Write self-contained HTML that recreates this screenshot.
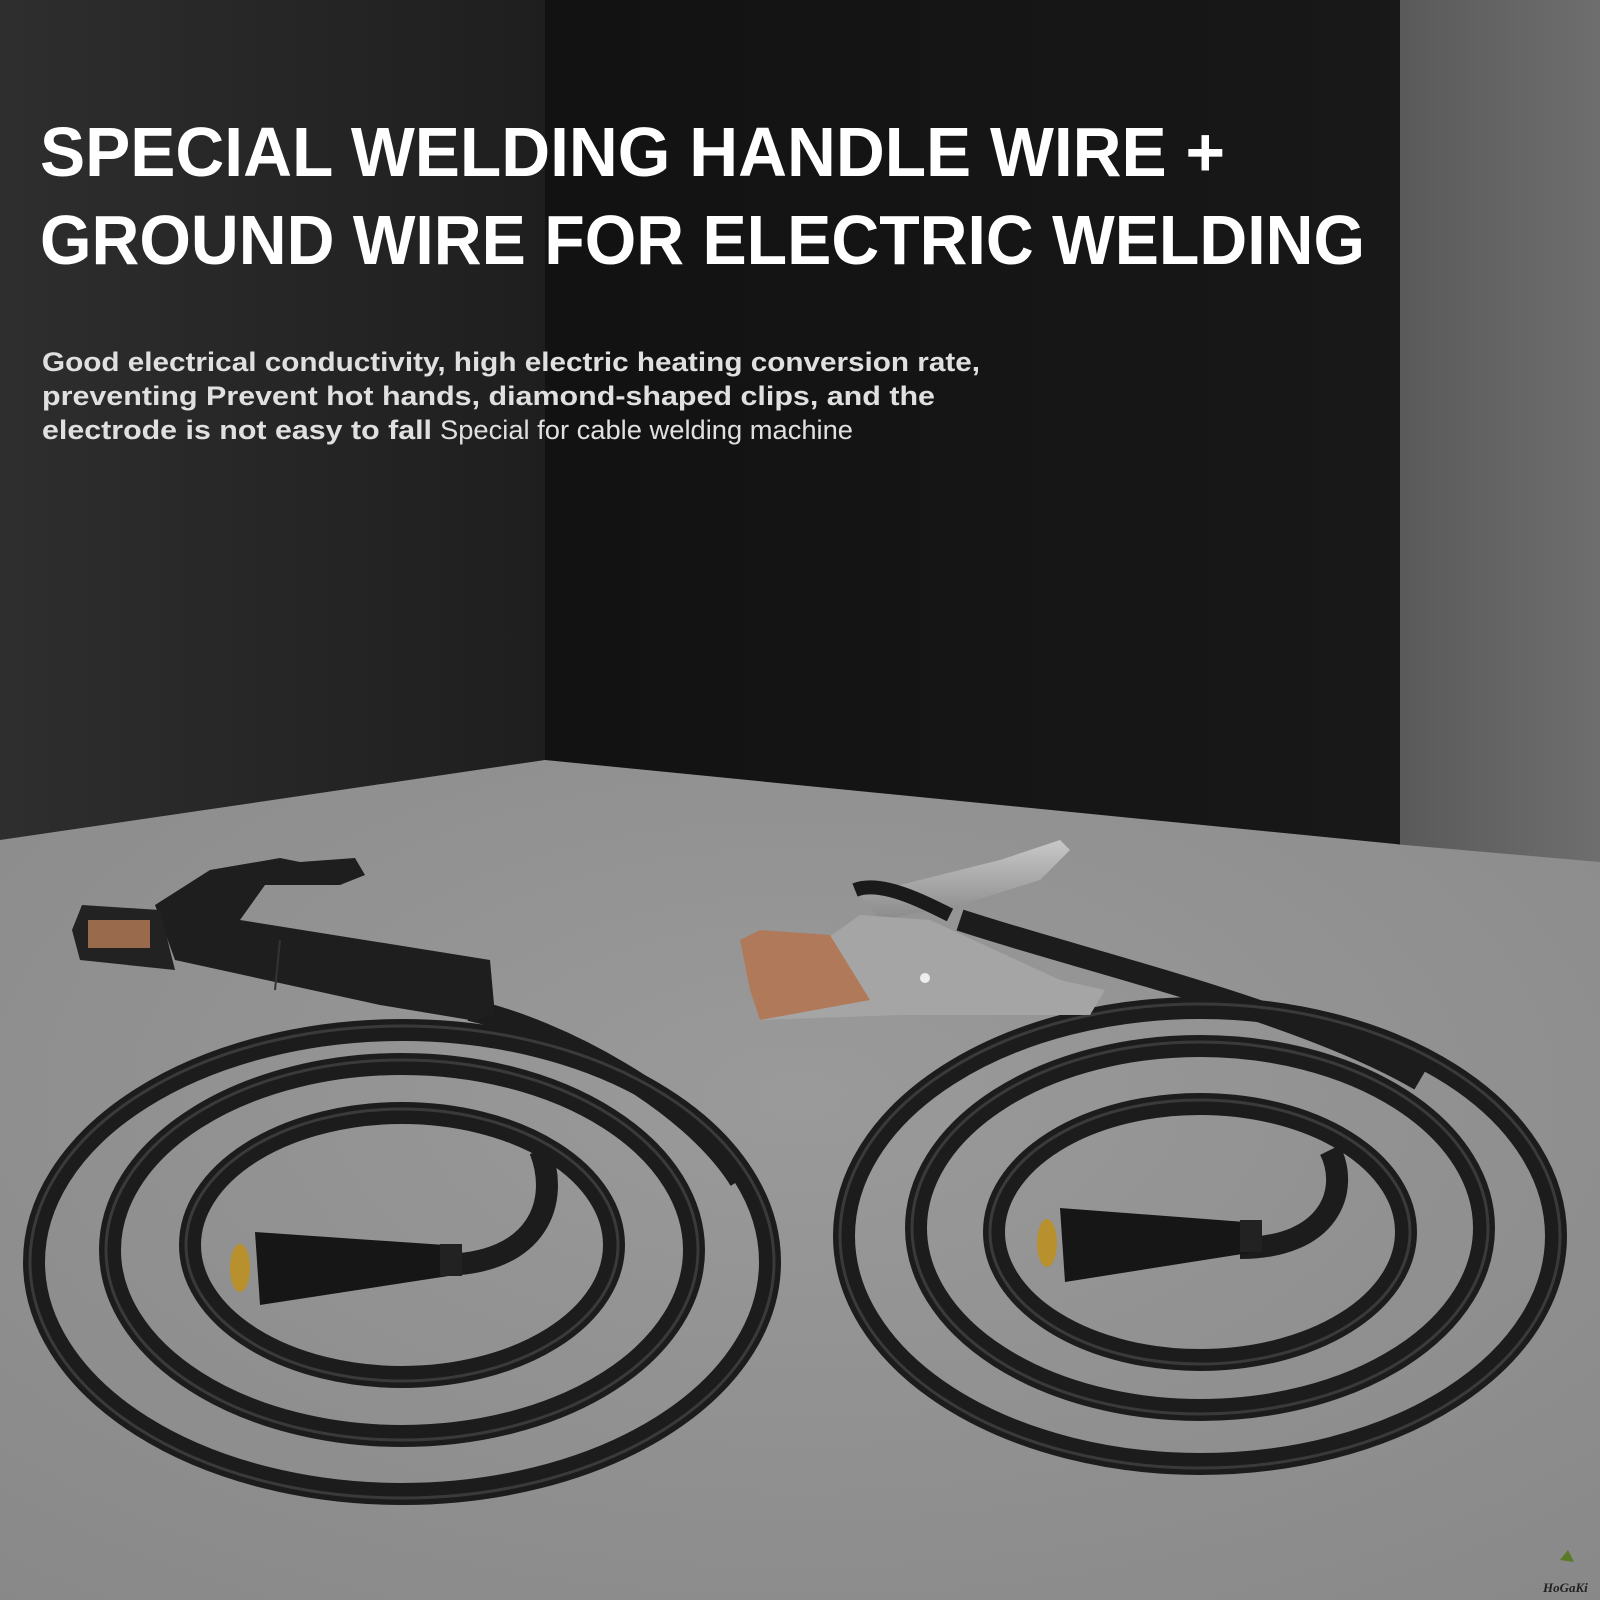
<!DOCTYPE html>
<html><head><meta charset="utf-8">
<style>
html,body{margin:0;padding:0;width:1600px;height:1600px;overflow:hidden;background:#1a1a1a}
svg{display:block}
</style></head>
<body>
<svg width="1600" height="1600" viewBox="0 0 1600 1600" xmlns="http://www.w3.org/2000/svg">
<defs>
<linearGradient id="lw" x1="0" y1="0" x2="1" y2="0">
<stop offset="0" stop-color="#2e2e2e"/><stop offset="1" stop-color="#1e1e1e"/></linearGradient>
<linearGradient id="bw" x1="0" y1="0" x2="1" y2="0">
<stop offset="0" stop-color="#121212"/><stop offset="1" stop-color="#181818"/></linearGradient>
<linearGradient id="rw" x1="0" y1="0" x2="1" y2="0">
<stop offset="0" stop-color="#5a5a5a"/><stop offset="1" stop-color="#6e6e6e"/></linearGradient>
<radialGradient id="fl" cx="0.5" cy="0.4" r="0.8">
<stop offset="0" stop-color="#9a9a9a"/><stop offset="1" stop-color="#888"/></radialGradient>
<linearGradient id="clamp" x1="0" y1="0" x2="0" y2="1">
<stop offset="0" stop-color="#c8c8c8"/><stop offset="1" stop-color="#8a8a8a"/></linearGradient>
</defs>
<rect x="0" y="0" width="555" height="1600" fill="url(#lw)"/>
<rect x="545" y="0" width="860" height="1600" fill="url(#bw)"/>
<rect x="1400" y="0" width="200" height="1600" fill="url(#rw)"/>
<polygon points="0,840 545,760 1405,845 1600,862 1600,1600 0,1600" fill="url(#fl)"/>

<text x="40" y="176" fill="#fff" font-family="Liberation Sans, sans-serif" font-size="70" font-weight="bold" textLength="1185" lengthAdjust="spacingAndGlyphs">SPECIAL WELDING HANDLE WIRE +</text>
<text x="40" y="264" fill="#fff" font-family="Liberation Sans, sans-serif" font-size="70" font-weight="bold" textLength="1325" lengthAdjust="spacingAndGlyphs">GROUND WIRE FOR ELECTRIC WELDING</text>
<g fill="#e0e0e0" font-family="Liberation Sans, sans-serif" font-size="27" font-weight="bold">
<text x="42" y="371" textLength="938" lengthAdjust="spacingAndGlyphs">Good electrical conductivity, high electric heating conversion rate,</text>
<text x="42" y="405" textLength="893" lengthAdjust="spacingAndGlyphs">preventing Prevent hot hands, diamond-shaped clips, and the</text>
<text x="42" y="439" textLength="390" lengthAdjust="spacingAndGlyphs">electrode is not easy to fall</text>
<text x="440" y="439" font-weight="normal" textLength="413" lengthAdjust="spacingAndGlyphs">Special for cable welding machine</text>
</g>

<g fill="none" stroke="#1c1c1c" stroke-width="22">
<ellipse cx="402" cy="1262" rx="368" ry="232"/>
<ellipse cx="402" cy="1250" rx="292" ry="186"/>
<ellipse cx="402" cy="1245" rx="212" ry="132"/>
<path d="M470 1010 C 560 1030 690 1100 740 1180"/>
<path d="M440 1265 C 540 1265 560 1200 540 1150"/>
</g>
<g fill="none" stroke="#3a3a3a" stroke-width="3">
<ellipse cx="402" cy="1262" rx="372" ry="236"/>
<ellipse cx="402" cy="1250" rx="296" ry="190"/>
<ellipse cx="402" cy="1245" rx="216" ry="136"/>
</g>
<polygon points="255,1232 445,1245 455,1275 260,1305" fill="#161616"/>
<rect x="440" y="1244" width="22" height="32" fill="#222"/>
<ellipse cx="240" cy="1268" rx="10" ry="24" fill="#b8912e"/>
<g fill="none" stroke="#1c1c1c" stroke-width="22">
<ellipse cx="1200" cy="1236" rx="356" ry="228"/>
<ellipse cx="1200" cy="1228" rx="284" ry="182"/>
<ellipse cx="1200" cy="1232" rx="206" ry="128"/>
<path d="M960 920 C 1080 960 1300 1010 1420 1080"/>
<path d="M1240 1248 C 1330 1248 1350 1190 1330 1150"/>
</g>
<g fill="none" stroke="#3a3a3a" stroke-width="3">
<ellipse cx="1200" cy="1236" rx="360" ry="232"/>
<ellipse cx="1200" cy="1228" rx="288" ry="186"/>
<ellipse cx="1200" cy="1232" rx="210" ry="132"/>
</g>
<polygon points="1060,1208 1245,1222 1255,1252 1065,1282" fill="#161616"/>
<rect x="1240" y="1220" width="22" height="32" fill="#222"/>
<ellipse cx="1047" cy="1243" rx="10" ry="24" fill="#b8912e"/>

<polygon points="155,905 210,870 280,858 300,862 355,858 365,875 340,885 265,885 240,920 490,960 495,1015 470,1020 380,1005 175,960" fill="#1e1e1e"/>
<polygon points="82,905 160,910 175,970 80,960 72,930" fill="#222"/>
<rect x="88" y="920" width="62" height="28" fill="#9a6a4c"/>
<line x1="280" y1="940" x2="275" y2="990" stroke="#333" stroke-width="2"/>
<polygon points="860,895 920,880 1000,860 1045,845 1060,840 1070,850 1040,880 960,905 880,920" fill="url(#clamp)"/>
<polygon points="860,915 930,920 1060,980 1105,990 1090,1015 900,1015 760,1020 755,990" fill="#a5a5a5"/>
<polygon points="740,940 760,930 830,935 870,1000 760,1020 750,990" fill="#b07a5a"/>
<path d="M855 890 C 880 880 920 900 950 915" stroke="#1a1a1a" stroke-width="14" fill="none"/>
<circle cx="925" cy="978" r="5" fill="#eee"/>

<text x="1543" y="1592" fill="#222" font-family="Liberation Serif, serif" font-size="13" font-style="italic" font-weight="bold">HoGaKi</text>
<path d="M1560 1560 l8 -10 l6 12 z" fill="#5a7a2a"/>
</svg>
</body></html>
